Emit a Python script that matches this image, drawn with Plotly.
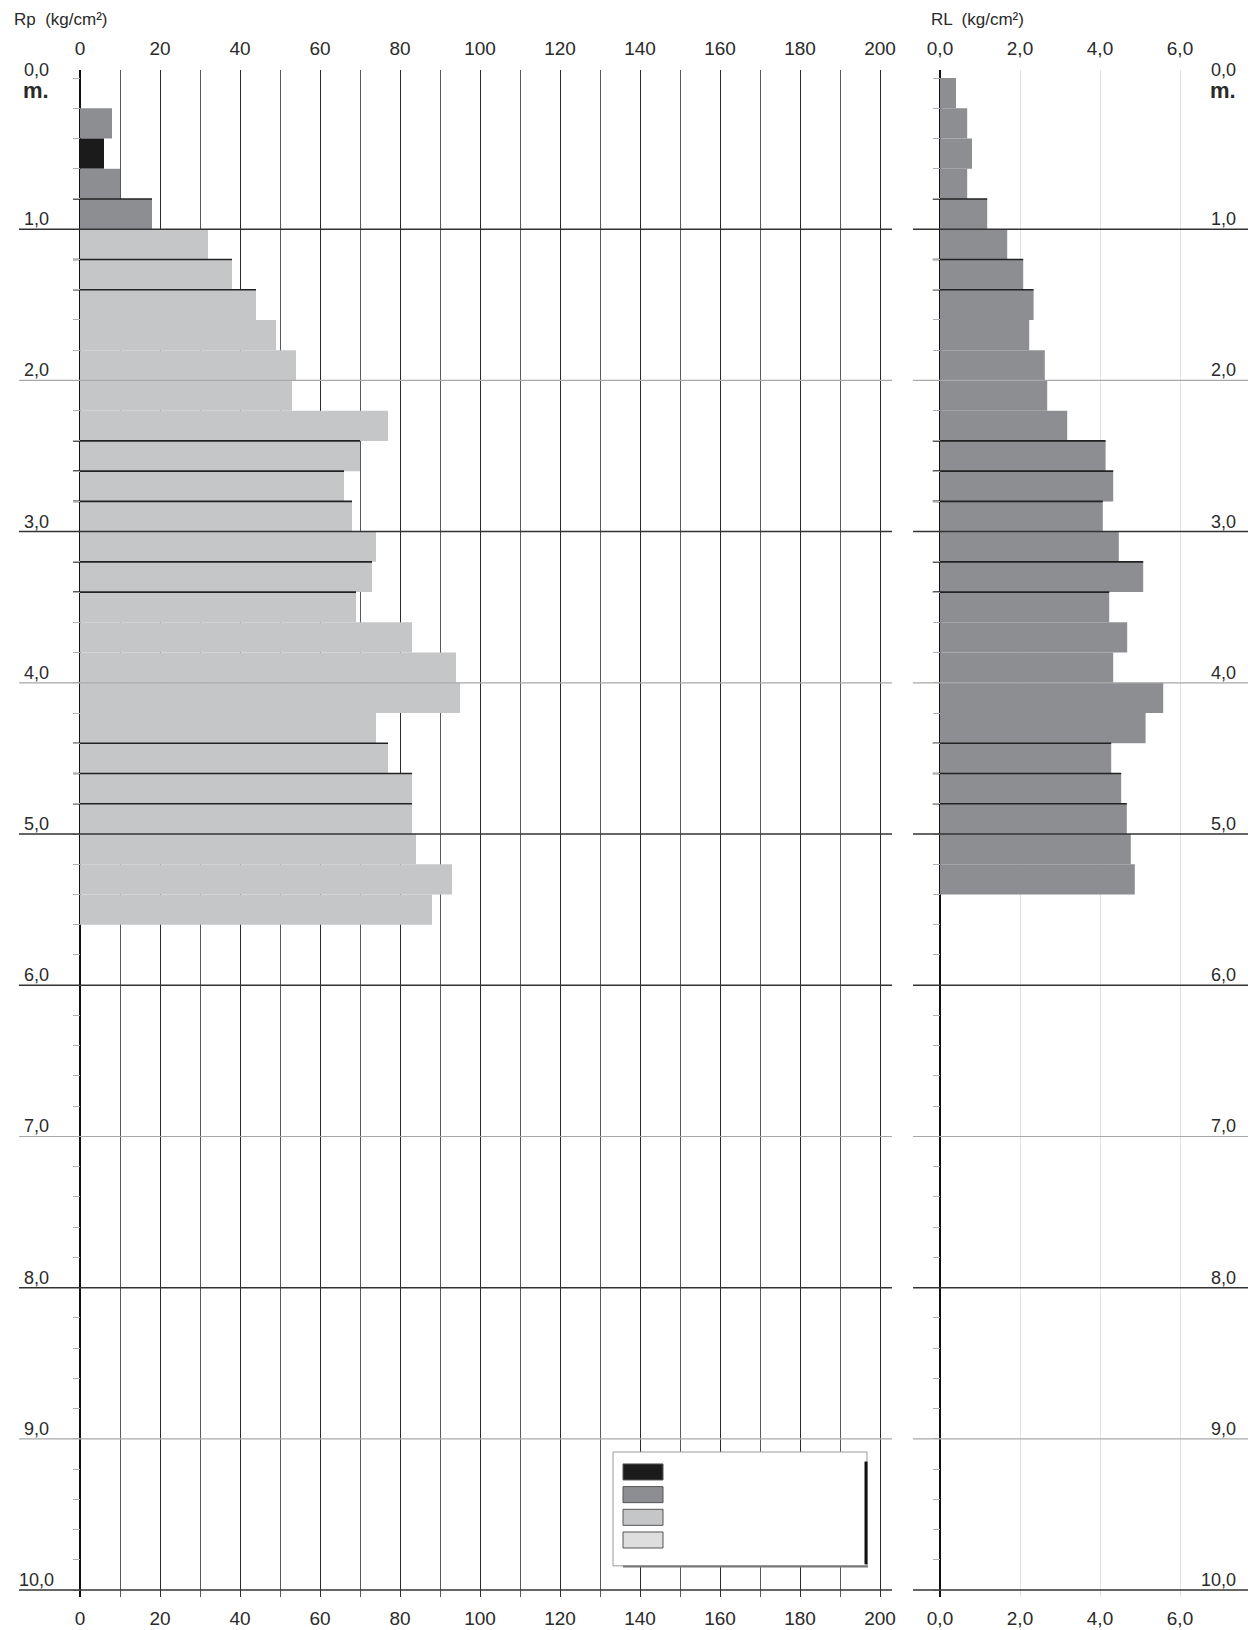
import plotly.graph_objects as go

# profondità (m) del tetto di ogni strato da 20 cm
rp_top = [0.2, 0.4, 0.6, 0.8, 1.0, 1.2, 1.4, 1.6, 1.8, 2.0, 2.2, 2.4, 2.6, 2.8,
          3.0, 3.2, 3.4, 3.6, 3.8, 4.0, 4.2, 4.4, 4.6, 4.8, 5.0, 5.2, 5.4]
rp_val = [8, 6, 10, 18, 32, 38, 44, 49, 54, 53, 77, 70, 66, 68,
          74, 73, 69, 83, 94, 95, 74, 77, 83, 83, 84, 93, 88]
rp_class = [1, 0, 1, 1, 2, 2, 2, 2, 2, 2, 2, 2, 2, 2,
            2, 2, 2, 2, 2, 2, 2, 2, 2, 2, 2, 2, 2]

rl_top = [0.0, 0.2, 0.4, 0.6, 0.8, 1.0, 1.2, 1.4, 1.6, 1.8, 2.0, 2.2, 2.4, 2.6,
          2.8, 3.0, 3.2, 3.4, 3.6, 3.8, 4.0, 4.2, 4.4, 4.6, 4.8, 5.0, 5.2]
rl_val = [0.40, 0.68, 0.80, 0.68, 1.18, 1.68, 2.08, 2.34, 2.23, 2.62, 2.68, 3.18, 4.14, 4.33,
          4.07, 4.47, 5.08, 4.23, 4.68, 4.33, 5.58, 5.14, 4.28, 4.53, 4.67, 4.77, 4.87]

class_colors = ['#1b1b1b', '#8d8e91', '#c5c6c8', '#dedede']
sep_depths = [0.8, 1.2, 1.4, 2.4, 2.6, 2.8, 3.2, 3.4, 4.4, 4.6, 4.8]
dark_depths = [1, 3, 5, 6, 8, 10]
light_depths = [2, 4, 7, 9]
depth_labels = ['1,0', '2,0', '3,0', '4,0', '5,0', '6,0', '7,0', '8,0', '9,0', '10,0']

rp_ticks = list(range(0, 201, 20))
rp_minor = list(range(10, 200, 20))
rl_ticks = [0, 2, 4, 6]
rl_ticktext = ['0,0', '2,0', '4,0', '6,0']

# la pagina html ha un margine di 8 px attorno al grafico
OFF = 8
W, H = 1258 - OFF, 1630 - OFF
FONT = 'Liberation Sans, Arial, sans-serif'
TXT = '#2a2a2a'
BAR_H = 0.2


def px_x(x):
    return (x - OFF) / W


def px_y(y):
    return 1 - (y - OFF) / H


fig = go.Figure()

# Rp
fig.add_trace(go.Bar(
    y=[t + BAR_H / 2 for t in rp_top], x=rp_val, orientation='h', width=BAR_H,
    marker=dict(color=[class_colors[c] for c in rp_class], line=dict(width=0)),
    xaxis='x', yaxis='y', showlegend=False, hoverinfo='x+y'))
# RL
fig.add_trace(go.Bar(
    y=[t + BAR_H / 2 for t in rl_top], x=rl_val, orientation='h', width=BAR_H,
    marker=dict(color=class_colors[1], line=dict(width=0)),
    xaxis='x2', yaxis='y2', showlegend=False, hoverinfo='x+y'))


# linee scure di separazione tra gli strati
def sep_lines(tops, vals, x_start):
    xs, ys = [], []
    for d in sep_depths:
        for t, v in zip(tops, vals):
            if abs(t - d) < 1e-6:
                xs += [x_start, v, None]
                ys += [d, d, None]
    return xs, ys


xs, ys = sep_lines(rp_top, rp_val, -1.75)
fig.add_trace(go.Scatter(x=xs, y=ys, mode='lines', line=dict(color='#222', width=1.6),
                         xaxis='x', yaxis='y', showlegend=False, hoverinfo='skip'))
xs, ys = sep_lines(rl_top, rl_val, -0.18)
fig.add_trace(go.Scatter(x=xs, y=ys, mode='lines', line=dict(color='#222', width=1.6),
                         xaxis='x2', yaxis='y2', showlegend=False, hoverinfo='skip'))

# tracce invisibili per gli assi superiori
fig.add_trace(go.Scatter(x=[0], y=[0], mode='markers', marker=dict(opacity=0),
                         xaxis='x3', yaxis='y', showlegend=False, hoverinfo='skip'))
fig.add_trace(go.Scatter(x=[0], y=[0], mode='markers', marker=dict(opacity=0),
                         xaxis='x4', yaxis='y2', showlegend=False, hoverinfo='skip'))

x1_dom = [px_x(19), px_x(892)]
x2_dom = [px_x(913), px_x(1248)]
y_dom = [px_y(1597), px_y(70)]
y_range = [10.046, -0.053]
x1_range = [-15.25, 203]
x2_range = [-0.675, 7.7]

tickfont = dict(family=FONT, size=19, color=TXT)

fig.update_layout(
    width=W, height=H,
    margin=dict(l=0, r=0, t=0, b=0, autoexpand=False),
    paper_bgcolor='white', plot_bgcolor='white',
    barmode='overlay',
    xaxis=dict(domain=x1_dom, range=x1_range, anchor='y',
               tickmode='array', tickvals=rp_ticks, ticks='', tickfont=tickfont,
               showgrid=True, gridcolor='#2b2b2b', gridwidth=1.3,
               minor=dict(tickmode='array', tickvals=rp_minor, showgrid=True,
                          gridcolor='#5a5a5a', gridwidth=1),
               zeroline=True, zerolinecolor='#111', zerolinewidth=1.8,
               showline=False, ticklabelstandoff=8),
    xaxis3=dict(overlaying='x', side='top', range=x1_range, anchor='y',
                tickmode='array', tickvals=rp_ticks, ticks='', tickfont=tickfont,
                showgrid=False, zeroline=False, showline=False, ticklabelstandoff=10),
    xaxis2=dict(domain=x2_dom, range=x2_range, anchor='y2',
                tickmode='array', tickvals=rl_ticks, ticktext=rl_ticktext, ticks='',
                tickfont=tickfont, showgrid=True, gridcolor='#e2e2e2', gridwidth=1,
                zeroline=True, zerolinecolor='#111', zerolinewidth=1.8,
                showline=False, ticklabelstandoff=8),
    xaxis4=dict(overlaying='x2', side='top', range=x2_range, anchor='y2',
                tickmode='array', tickvals=rl_ticks, ticktext=rl_ticktext, ticks='',
                tickfont=tickfont, showgrid=False, zeroline=False, showline=False,
                ticklabelstandoff=10),
    yaxis=dict(domain=y_dom, range=y_range, anchor='free', position=px_x(80),
               tickmode='linear', tick0=0, dtick=0.2, ticks='outside', ticklen=7,
               tickcolor='#b0b0b0', tickwidth=1, showticklabels=False,
               showgrid=False, zeroline=False, showline=False),
    yaxis2=dict(domain=y_dom, range=y_range, anchor='free', position=px_x(940),
                tickmode='linear', tick0=0, dtick=0.2, ticks='outside', ticklen=7,
                tickcolor='#b0b0b0', tickwidth=1, showticklabels=False,
                showgrid=False, zeroline=False, showline=False),
    yaxis3=dict(overlaying='y2', range=y_range, anchor='free', position=px_x(1190),
                tickmode='linear', tick0=0, dtick=0.2, ticks='outside', ticklen=10,
                tickcolor='#8a8a8a', tickwidth=1.3, showticklabels=False,
                showgrid=False, zeroline=False, showline=False),
)

shapes = []
for dlist, col, wd in [(light_depths, '#a8a8a8', 1.1), (dark_depths, '#333', 1.5)]:
    for d in dlist:
        shapes.append(dict(type='line', xref='x domain', yref='y', x0=0, x1=1, y0=d, y1=d,
                           line=dict(color=col, width=wd), layer='above'))
        shapes.append(dict(type='line', xref='x2 domain', yref='y2', x0=0, x1=1, y0=d, y1=d,
                           line=dict(color=col, width=wd), layer='above'))

# riquadro legenda
shapes.append(dict(type='rect', xref='x', yref='y', x0=133.25, x1=196.75, y0=9.087, y1=9.84,
                   fillcolor='white', line=dict(color='#9a9a9a', width=1), layer='above'))
shapes.append(dict(type='line', xref='x', yref='y', x0=196.5, x1=196.5, y0=9.15, y1=9.83,
                   line=dict(color='#111', width=3), layer='above'))
shapes.append(dict(type='line', xref='x', yref='y', x0=135.75, x1=197, y0=9.845, y1=9.845,
                   line=dict(color='#777', width=2), layer='above'))
for i, col in enumerate(class_colors):
    y0 = 9.166 + i * 0.15
    shapes.append(dict(type='rect', xref='x', yref='y', x0=135.75, x1=145.75,
                       y0=y0, y1=y0 + 0.106, fillcolor=col,
                       line=dict(color='#555', width=1), layer='above'))
fig.update_layout(shapes=shapes)

annotations = []
lab_font = dict(family=FONT, size=18, color=TXT)
for d in dark_depths + light_depths:
    lab = depth_labels[d - 1]
    annotations.append(dict(xref='x', yref='y', x=-11, y=d, text=lab, showarrow=False,
                            xanchor='center', yanchor='bottom', yshift=-2, font=lab_font))
    annotations.append(dict(xref='x2', yref='y2', x=7.45, y=d, text=lab, showarrow=False,
                            xanchor='right', yanchor='bottom', yshift=-2, font=lab_font))
# 0,0 m.
for xr, yr, xv, xa in [('x', 'y', -11, 'center'), ('x2', 'y2', 7.45, 'right')]:
    annotations.append(dict(xref=xr, yref=yr, x=xv, y=0, text='0,0', showarrow=False,
                            xanchor=xa, yanchor='middle', yshift=8, font=lab_font))
    annotations.append(dict(xref=xr, yref=yr, x=xv, y=0, text='<b>m.</b>', showarrow=False,
                            xanchor=xa, yanchor='middle', yshift=-12,
                            font=dict(family=FONT, size=22, color=TXT)))
title_font = dict(family=FONT, size=17, color=TXT)
annotations.append(dict(xref='paper', yref='paper', x=px_x(12), y=px_y(20),
                        text='Rp  (kg/cm²)', showarrow=False, xanchor='left',
                        yanchor='middle', font=title_font))
annotations.append(dict(xref='paper', yref='paper', x=px_x(929), y=px_y(20),
                        text='RL  (kg/cm²)', showarrow=False, xanchor='left',
                        yanchor='middle', font=title_font))
fig.update_layout(annotations=annotations)

fig.write_html("out.html")
